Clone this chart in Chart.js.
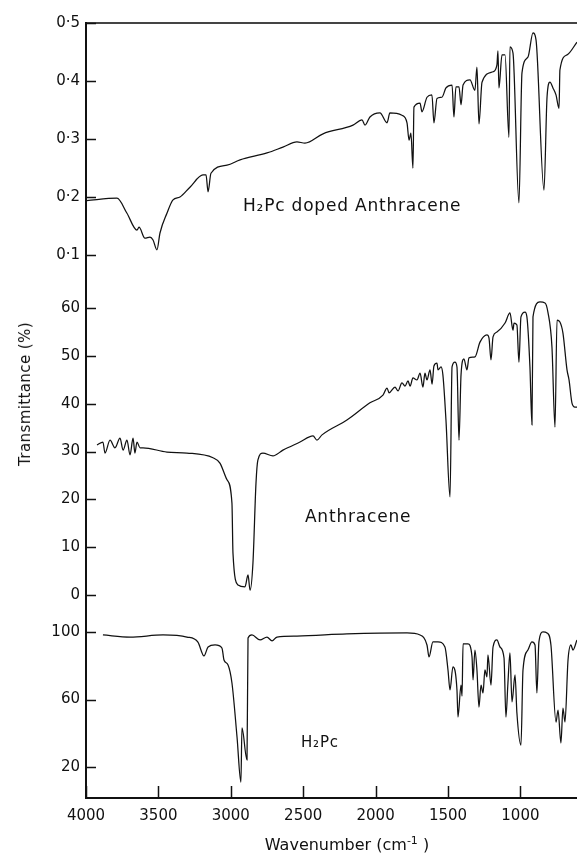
<!DOCTYPE html>
<html>
<head>
<meta charset="utf-8">
<title>IR spectra</title>
<script src="https://cdn.jsdelivr.net/npm/chart.js@4.4.1/dist/chart.umd.min.js"></script>
<style>
  html, body { margin: 0; padding: 0; background: #fff; }
  #wrap { position: relative; width: 577px; height: 855px; }
  #ytitle {
    position: absolute; left: 25px; top: 394px;
    transform: translate(-50%, -50%) rotate(-90deg);
    font: 15px "DejaVu Sans"; color: #111; white-space: nowrap; letter-spacing: 0.4px;
  }
  #xtitle {
    position: absolute; left: 347px; top: 844px;
    transform: translate(-50%, -50%);
    font: 16px "DejaVu Sans"; color: #111; white-space: nowrap;
  }
  #xtitle sup { font-size: 11px; }
</style>
</head>
<body>
<div id="wrap">
  <canvas id="ir" width="577" height="855"></canvas>
  <div id="ytitle">Transmittance (%)</div>
  <div id="xtitle">Wavenumber (cm<sup>-1</sup> )</div>
</div>
<script>
// ── data (wavenumber in cm-1, transmittance per panel) ─────────────────────
const X_TICKS     = [4000, 3500, 3000, 2500, 2000, 1500, 1000];
const DOPED_TICKS = [0.1, 0.2, 0.3, 0.4, 0.5];
const ANTH_TICKS  = [0, 10, 20, 30, 40, 50, 60];
const H2PC_TICKS  = [20, 60, 100];

const WN_DOPED = [3995, 3786, 3717, 3648, 3634, 3593, 3558, 3537, 3510, 3489, 3441, 3399, 3351, 3282, 3192, 3171,
  3157, 3137, 3026, 2936, 2750, 2640, 2543, 2488, 2363, 2156, 2094, 2073, 2039, 1970, 1921, 1901, 1818, 1783, 1769,
  1756, 1742, 1735, 1693, 1680, 1645, 1611, 1597, 1576, 1542, 1514, 1472, 1459, 1445, 1424, 1410, 1396, 1348, 1314,
  1300, 1286, 1265, 1189, 1162, 1155, 1148, 1127, 1106, 1079, 1072, 1051, 1010, 989, 948, 913, 892, 837, 816, 796,
  775, 754, 733, 727, 678, 609];
const T_DOPED = [0.194, 0.198, 0.172, 0.143, 0.148, 0.129, 0.131, 0.126, 0.109, 0.138, 0.172, 0.195, 0.200, 0.217,
  0.238, 0.238, 0.209, 0.241, 0.255, 0.264, 0.276, 0.286, 0.295, 0.293, 0.309, 0.324, 0.333, 0.324, 0.338, 0.345,
  0.328, 0.345, 0.341, 0.328, 0.298, 0.31, 0.25, 0.355, 0.362, 0.347, 0.372, 0.376, 0.328, 0.370, 0.372, 0.388,
  0.393, 0.338, 0.390, 0.390, 0.359, 0.393, 0.402, 0.384, 0.424, 0.326, 0.398, 0.416, 0.428, 0.452, 0.388, 0.445,
  0.445, 0.303, 0.459, 0.448, 0.190, 0.414, 0.441, 0.483, 0.471, 0.212, 0.372, 0.398, 0.388, 0.376, 0.353, 0.419,
  0.445, 0.467];

const WN_ANTH = [3924, 3883, 3869, 3834, 3800, 3765, 3744, 3717, 3696, 3675, 3662, 3648, 3627, 3606, 3441, 3303,
  3123, 3075, 3026, 2992, 2985, 2950, 2902, 2881, 2867, 2847, 2826, 2813, 2778, 2709, 2640, 2522, 2432, 2405, 2370,
  2198, 2039, 1949, 1921, 1907, 1866, 1845, 1818, 1797, 1776, 1762, 1742, 1714, 1693, 1673, 1659, 1645, 1624, 1610,
  1597, 1576, 1569, 1548, 1535, 1514, 1486, 1472, 1452, 1438, 1424, 1410, 1390, 1369, 1355, 1314, 1279, 1231, 1217,
  1203, 1189, 1162, 1106, 1072, 1051, 1044, 1024, 1010, 996, 968, 955, 934, 920, 913, 865, 830, 810, 782, 761, 747,
  727, 706, 678, 664, 644, 623, 609];
const T_ANTH = [31.4, 32.0, 29.7, 32.4, 30.8, 32.8, 30.3, 32.4, 29.3, 32.8, 29.7, 32.0, 30.8, 30.8, 29.9, 29.7,
  28.7, 27.6, 24.1, 19.2, 8.8, 2.1, 1.7, 4.2, 1.0, 6.7, 23.4, 28.2, 29.7, 29.1, 30.3, 32.0, 33.3, 32.4, 33.5,
  36.6, 40.2, 41.8, 43.3, 42.3, 43.5, 42.7, 44.4, 43.7, 44.8, 43.7, 45.4, 45.0, 46.4, 43.5, 46.4, 45.0, 47.1, 44.1,
  47.9, 48.5, 47.1, 47.7, 46.0, 36.6, 20.5, 47.7, 48.7, 47.7, 32.4, 46.0, 49.4, 47.1, 49.6, 49.8, 52.9, 54.4, 53.8,
  49.2, 54.0, 55.0, 56.9, 59.0, 55.4, 56.9, 56.5, 48.7, 58.2, 59.2, 58.2, 47.7, 35.6, 58.2, 61.3, 61.1, 59.2, 51.9,
  35.1, 57.5, 57.1, 54.8, 47.1, 45.0, 40.2, 39.3, 39.3];

const WN_H2PC = [3883, 3696, 3468, 3303, 3227, 3185, 3157, 3109, 3061, 3047, 3019, 2992, 2957, 2930, 2923, 2888,
  2881, 2854, 2798, 2750, 2715, 2681, 2543, 2198, 1783, 1693, 1645, 1631, 1604, 1569, 1521, 1500, 1486, 1466, 1438,
  1431, 1410, 1403, 1396, 1362, 1334, 1327, 1314, 1300, 1286, 1272, 1258, 1245, 1231, 1224, 1203, 1189, 1162, 1141,
  1113, 1100, 1086, 1072, 1058, 1037, 1024, 996, 982, 948, 920, 899, 886, 872, 844, 816, 789, 754, 740, 720, 706,
  692, 671, 651, 637, 609];
const T_H2PC = [98.2, 97.0, 98.2, 97.0, 94.0, 85.8, 91.1, 92.3, 90.5, 83.4, 80.5, 69.8, 37.9, 11.2, 43.2, 24.3,
  96.4, 98.2, 95.3, 97.0, 94.7, 97.0, 97.6, 98.8, 99.4, 98.2, 92.3, 85.2, 94.1, 94.1, 91.1, 77.5, 65.7, 79.3, 65.7,
  49.7, 68.6, 62.1, 92.9, 92.9, 85.2, 71.6, 89.3, 77.5, 55.6, 68.6, 63.9, 77.5, 73.4, 86.4, 68.6, 91.1, 95.3, 91.1,
  84.6, 49.7, 69.8, 87.6, 58.6, 74.6, 52.1, 33.1, 77.5, 89.3, 94.1, 92.3, 63.9, 94.1, 100.0, 99.4, 92.3, 46.7, 53.8,
  34.3, 55.0, 46.7, 83.4, 92.3, 89.3, 95.3];

// ── look ───────────────────────────────────────────────────────────────────
const INK = '#111';
const TICK_FONT = { family: 'DejaVu Sans', size: 15 };

// panel captions, anchored in data units of each panel
const NOTES = [
  { text: 'H\u2082Pc doped Anthracene', axis: 'yDoped', wn: 2916, t: 0.184, size: 17 },
  { text: 'Anthracene',                 axis: 'yAnth',  wn: 2488, t: 16.1,  size: 17 },
  { text: 'H\u2082Pc',                  axis: 'yH2pc',  wn: 2515, t: 34.3,  size: 15 },
];

const pairs = (xs, ys) => xs.map((x, i) => ({ x, y: ys[i] }));
const line = {
  showLine: true, pointRadius: 0, borderColor: INK, borderWidth: 1.25,
  cubicInterpolationMode: 'monotone', fill: false,
};

function yPanel(min, max, weight, ticks, fmt) {
  return {
    type: 'linear', position: 'left', stack: 'ir', stackWeight: weight, min, max,
    border: { color: INK, width: 2 },
    grid: { drawOnChartArea: false, drawTicks: false },
    ticks: { color: INK, font: TICK_FONT, padding: 6, autoSkip: false, callback: fmt },
    afterBuildTicks: s => { s.ticks = ticks.map(v => ({ value: v })); },
    afterFit: s => { s.width = 86; },
  };
}

// tick marks point into the plot, as on the chart recorder paper
const innerTicks = {
  id: 'innerTicks',
  afterDraw(chart) {
    const { ctx, chartArea } = chart;
    ctx.save();
    ctx.strokeStyle = INK;
    ctx.lineWidth = 1.5;
    ctx.beginPath();
    ['yDoped', 'yAnth', 'yH2pc'].forEach(id => {
      const s = chart.scales[id];
      s.ticks.forEach(t => {
        const y = Math.round(s.getPixelForValue(t.value)) + 0.5;
        ctx.moveTo(chartArea.left, y);
        ctx.lineTo(chartArea.left + 10, y);
      });
    });
    const sx = chart.scales.x;
    sx.ticks.forEach(t => {
      const x = Math.round(sx.getPixelForValue(t.value)) + 0.5;
      ctx.moveTo(x, chartArea.bottom);
      ctx.lineTo(x, chartArea.bottom - 12);
    });
    ctx.stroke();
    ctx.restore();
  }
};

const notesPlugin = {
  id: 'notes',
  afterDatasetsDraw(chart) {
    const { ctx, scales } = chart;
    ctx.save();
    ctx.fillStyle = INK;
    ctx.textBaseline = 'middle';
    ctx.textAlign = 'left';
    ctx.letterSpacing = '0.8px';
    NOTES.forEach(n => {
      ctx.font = `${n.size}px "DejaVu Sans"`;
      ctx.fillText(n.text, scales.x.getPixelForValue(n.wn), scales[n.axis].getPixelForValue(n.t));
    });
    ctx.restore();
  }
};

new Chart(document.getElementById('ir'), {
  type: 'scatter',
  data: {
    datasets: [
      { label: 'H2Pc doped Anthracene', data: pairs(WN_DOPED, T_DOPED), yAxisID: 'yDoped', ...line },
      { label: 'Anthracene',            data: pairs(WN_ANTH, T_ANTH),   yAxisID: 'yAnth',  ...line },
      { label: 'H2Pc',                  data: pairs(WN_H2PC, T_H2PC),   yAxisID: 'yH2pc',  ...line },
    ],
  },
  options: {
    responsive: false,
    animation: false,
    layout: { padding: 0 },
    plugins: { legend: { display: false }, tooltip: { enabled: false }, colors: { enabled: false } },
    scales: {
      x: {
        type: 'linear', position: 'bottom', reverse: true, min: 609, max: 4000,
        border: { color: INK, width: 2 },
        grid: { drawOnChartArea: false, drawTicks: false },
        ticks: { color: INK, font: TICK_FONT, padding: 9, autoSkip: false, maxRotation: 0, callback: v => String(v) },
        afterBuildTicks: s => { s.ticks = X_TICKS.map(v => ({ value: v })); },
        afterFit: s => { s.height = 57; },
      },
      x2: {
        type: 'linear', position: 'top', reverse: true, min: 609, max: 4000,
        border: { color: '#444', width: 2 },
        grid: { drawOnChartArea: false, drawTicks: false },
        ticks: { display: false },
        afterFit: s => { s.height = 23; },
      },
      yH2pc:  yPanel(1.8, 111.8, 186, H2PC_TICKS, v => String(v)),
      yAnth:  yPanel(-3.56, 65.9, 332, ANTH_TICKS, v => String(v)),
      yDoped: yPanel(0.057, 0.5, 257, DOPED_TICKS, v => v.toFixed(1).replace('.', '\u00b7')),
    },
  },
  plugins: [innerTicks, notesPlugin],
});
</script>
</body>
</html>
